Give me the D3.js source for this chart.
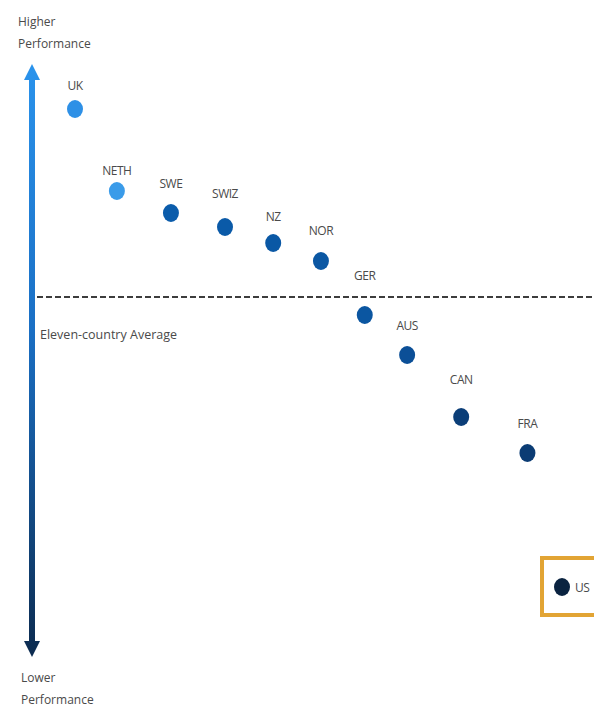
<!DOCTYPE html>
<html>
<head>
<meta charset="utf-8">
<script src="https://cdn.jsdelivr.net/npm/d3@7/dist/d3.min.js"></script>
<style>
  html, body { margin: 0; padding: 0; background: #fff; }
  svg { display: block; }
  text { font-family: "Open Sans", "Noto Sans", sans-serif; fill: #4a4a4a; }
</style>
</head>
<body>
<svg id="chart" width="594" height="711"></svg>
<script>
// Countries in ranked order, with overall performance relative to the average
const countries = ["UK", "NETH", "SWE", "SWIZ", "NZ", "NOR", "GER", "AUS", "CAN", "FRA", "US"];
const scores    = [0.94, 0.53, 0.42, 0.35, 0.27, 0.18, -0.09, -0.29, -0.60, -0.78, -1.45];
const spread    = [0, 0.86, 1.97, 3.08, 4.07, 5.05, 5.95, 6.82, 7.93, 9.29, 10];
const dotColors = ["#2e90e6", "#3a9be9", "#0b5cab", "#0a5aa8", "#0a58a5", "#0b57a3",
                   "#0b56a1", "#0b4f97", "#0b3e78", "#0b3c74", "#0a2340"];
const averageLabel = "Eleven-country Average";
const topLabel = ["Higher", "Performance"];
const bottomLabel = ["Lower", "Performance"];

const svg = d3.select("#chart");
const W = 594;

const x = d3.scaleLinear().domain([0, 10]).range([75, 562]);
const y = d3.scaleLinear().domain([-1.8, 1.2]).range([657, 57]);
const color = d3.scaleOrdinal().domain(countries).range(dotColors);

// Gradient for the performance arrow
const defs = svg.append("defs");
const grad = defs.append("linearGradient")
  .attr("id", "perfGrad").attr("x1", 0).attr("y1", 0).attr("x2", 0).attr("y2", 1);
grad.append("stop").attr("offset", "0%").attr("stop-color", "#2a93ec");
grad.append("stop").attr("offset", "45%").attr("stop-color", "#1a6fc4");
grad.append("stop").attr("offset", "100%").attr("stop-color", "#0c2b4f");

// Vertical arrow with heads at both ends
const ax = 32, arrowTop = 64, arrowBot = 657, head = 16, hw = 8, sw = 3;
const arrowPath = d3.path();
arrowPath.moveTo(ax, arrowTop);
arrowPath.lineTo(ax + hw, arrowTop + head);
arrowPath.lineTo(ax + sw, arrowTop + head);
arrowPath.lineTo(ax + sw, arrowBot - head);
arrowPath.lineTo(ax + hw, arrowBot - head);
arrowPath.lineTo(ax, arrowBot);
arrowPath.lineTo(ax - hw, arrowBot - head);
arrowPath.lineTo(ax - sw, arrowBot - head);
arrowPath.lineTo(ax - sw, arrowTop + head);
arrowPath.lineTo(ax - hw, arrowTop + head);
arrowPath.closePath();
svg.append("path").attr("d", arrowPath.toString()).attr("fill", "url(#perfGrad)");

// Axis end labels
svg.append("text").attr("x", 18).attr("y", 26).attr("font-size", 12)
  .selectAll("tspan").data(topLabel).join("tspan")
  .attr("x", 18).attr("dy", (d, i) => i ? 22 : 0).text(d => d);
svg.append("text").attr("x", 21).attr("y", 682).attr("font-size", 12)
  .selectAll("tspan").data(bottomLabel).join("tspan")
  .attr("x", 21).attr("dy", (d, i) => i ? 22 : 0).text(d => d);

// Average reference line
svg.append("line")
  .attr("x1", 37).attr("x2", W).attr("y1", y(0)).attr("y2", y(0))
  .attr("stroke", "#3d3d3d").attr("stroke-width", 2.2).attr("stroke-dasharray", "6,3");
svg.append("text").attr("x", 40).attr("y", y(0) + 42).attr("font-size", 12.5)
  .text(averageLabel);

const data = countries.map((c, i) => ({ c, s: scores[i], p: spread[i] }));

// Highlight box around the US
const us = data[data.length - 1];
svg.append("rect")
  .attr("x", x(us.p) - 20).attr("y", y(us.s) - 29)
  .attr("width", 80).attr("height", 57)
  .attr("fill", "none").attr("stroke", "#e2a434").attr("stroke-width", 4);

// Country dots
svg.selectAll("ellipse.dot").data(data).join("ellipse")
  .attr("class", "dot")
  .attr("cx", d => x(d.p)).attr("cy", d => y(d.s))
  .attr("rx", 8).attr("ry", 9)
  .attr("fill", d => color(d.c));

// Country labels: above each dot, except the highlighted one beside it
const labelOffset = { UK: -19, NETH: -16, SWE: -25, SWIZ: -29, NZ: -22, NOR: -26,
                      GER: -35, AUS: -25, CAN: -33, FRA: -25 };
svg.selectAll("text.lbl").data(data).join("text")
  .attr("class", "lbl")
  .attr("font-size", 12)
  .attr("text-anchor", d => d.c === "US" ? "start" : "middle")
  .attr("x", d => d.c === "US" ? x(d.p) + 13 : x(d.p))
  .attr("y", d => d.c === "US" ? y(d.s) + 5 : y(d.s) + labelOffset[d.c])
  .attr("letter-spacing", -0.5)
  .text(d => d.c);
</script>
</body>
</html>
